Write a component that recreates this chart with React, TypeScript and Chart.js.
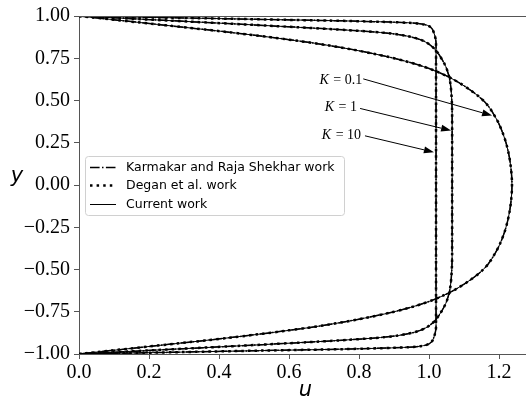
import React, { useEffect, useRef } from "react";
import { Chart, registerables } from "chart.js";

Chart.register(...registerables);

// ---- data ----
const yGrid = [
  1.0, 0.99, 0.98, 0.97, 0.96, 0.95, 0.94, 0.93, 0.92, 0.9, 0.88, 0.86, 0.84, 0.82, 0.8, 0.75, 0.7, 0.65, 0.6, 0.5, 0.4, 0.3, 0.2, 0.1, 0.0,
  -0.1, -0.2, -0.3, -0.4, -0.5, -0.6, -0.65, -0.7, -0.75, -0.8, -0.82, -0.84, -0.86, -0.88, -0.9, -0.92, -0.93, -0.94, -0.95, -0.96, -0.97, -0.98, -0.99, -1.0,
];

const uK01 = [
  0, 0.045, 0.09, 0.135, 0.18, 0.225, 0.27, 0.315, 0.36, 0.445, 0.525, 0.6, 0.67, 0.73, 0.785, 0.9, 0.985, 1.045, 1.09, 1.155, 1.19, 1.212, 1.226, 1.234, 1.237,
  1.234, 1.226, 1.212, 1.19, 1.155, 1.09, 1.045, 0.985, 0.9, 0.785, 0.73, 0.67, 0.6, 0.525, 0.445, 0.36, 0.315, 0.27, 0.225, 0.18, 0.135, 0.09, 0.045, 0,
];

const uK1 = [
  0, 0.095, 0.19, 0.285, 0.38, 0.475, 0.565, 0.655, 0.74, 0.875, 0.94, 0.975, 0.995, 1.008, 1.018, 1.035, 1.048, 1.056, 1.061, 1.065, 1.066, 1.066, 1.066, 1.066, 1.066,
  1.066, 1.066, 1.066, 1.066, 1.065, 1.061, 1.056, 1.048, 1.035, 1.018, 1.008, 0.995, 0.975, 0.94, 0.875, 0.74, 0.655, 0.565, 0.475, 0.38, 0.285, 0.19, 0.095, 0,
];

const uK10 = [
  0, 0.26, 0.52, 0.78, 0.94, 0.985, 1.0, 1.006, 1.01, 1.014, 1.017, 1.019, 1.02, 1.02, 1.02, 1.02, 1.02, 1.02, 1.02, 1.02, 1.02, 1.02, 1.02, 1.02, 1.02,
  1.02, 1.02, 1.02, 1.02, 1.02, 1.02, 1.02, 1.02, 1.02, 1.02, 1.02, 1.02, 1.019, 1.017, 1.014, 1.01, 1.006, 1.0, 0.985, 0.94, 0.78, 0.52, 0.26, 0,
];

const curves = [uK01, uK1, uK10];
const curveNames = ["0.1", "1", "10"];
const legendLabels = ["Karmakar and Raja Shekhar work", "Degan et al. work", "Current work"];
const xAxisLabel = "u";
const yAxisLabel = "y";

// annotation anchors in data coordinates (text right end, arrow start, arrow tip)
const annotTextU = [0.806, 0.791, 0.803];
const annotTextY = [0.618, 0.457, 0.293];
const arrowFromU = [0.812, 0.803, 0.817];
const arrowFromY = [0.628, 0.453, 0.291];
const arrowToU = [1.18, 1.063, 1.014];
const arrowToY = [0.411, 0.322, 0.194];

// ---- styles ----
const SPINE = "#555";
const TICK_FONT = '"Liberation Serif", "Times New Roman", serif';
const SANS = '"DejaVu Sans", sans-serif';
const DASHDOT = [9.6, 2.4, 1.5, 2.4];
const DOTTED = [2.5, 4.1];

function fmtMinus(v: number, d: number) {
  const s = Math.abs(v).toFixed(d);
  return v < -1e-9 ? "\u2212" + s : s;
}

const overlayPlugin = {
  id: "overlay",
  afterDraw(chart: any) {
    const { ctx, chartArea: ca } = chart;
    const xs = chart.scales.x;
    const ys = chart.scales.y;
    ctx.save();

    // top spine
    ctx.strokeStyle = SPINE;
    ctx.lineWidth = 1;
    ctx.setLineDash([]);
    ctx.beginPath();
    const ty = Math.round(ca.top) + 0.5;
    ctx.moveTo(ca.left, ty);
    ctx.lineTo(ca.right, ty);
    ctx.stroke();

    // annotations
    for (let i = 0; i < curveNames.length; i++) {
      const tx = xs.getPixelForValue(annotTextU[i]);
      const tyy = ys.getPixelForValue(annotTextY[i]);
      const rest = " = " + curveNames[i];
      ctx.fillStyle = "#000";
      ctx.textBaseline = "middle";
      ctx.textAlign = "left";
      ctx.font = `14px ${TICK_FONT}`;
      const restW = ctx.measureText(rest).width;
      ctx.font = `italic 14px ${TICK_FONT}`;
      const kW = ctx.measureText("K").width;
      const x0 = tx - restW - kW;
      ctx.fillText("K", x0, tyy);
      ctx.font = `14px ${TICK_FONT}`;
      ctx.fillText(rest, x0 + kW + 1, tyy);

      const ax = xs.getPixelForValue(arrowFromU[i]);
      const ay = ys.getPixelForValue(arrowFromY[i]);
      const bx = xs.getPixelForValue(arrowToU[i]);
      const by = ys.getPixelForValue(arrowToY[i]);
      const ang = Math.atan2(by - ay, bx - ax);
      const hl = 10;
      const hw = 3.5;
      const baseX = bx - hl * Math.cos(ang);
      const baseY = by - hl * Math.sin(ang);
      ctx.strokeStyle = "#000";
      ctx.lineWidth = 1;
      ctx.beginPath();
      ctx.moveTo(ax, ay);
      ctx.lineTo(baseX, baseY);
      ctx.stroke();
      ctx.beginPath();
      ctx.moveTo(bx, by);
      ctx.lineTo(baseX + hw * Math.sin(ang), baseY - hw * Math.cos(ang));
      ctx.lineTo(baseX - hw * Math.sin(ang), baseY + hw * Math.cos(ang));
      ctx.closePath();
      ctx.fillStyle = "#000";
      ctx.fill();
    }

    // legend
    const lx = ca.left + 6;
    const lt = ca.top + 140;
    const lw = 259;
    const lh = 59;
    ctx.setLineDash([]);
    ctx.fillStyle = "rgba(255,255,255,0.8)";
    ctx.strokeStyle = "#d0d0d0";
    ctx.lineWidth = 1;
    ctx.beginPath();
    (ctx as any).roundRect(lx + 0.5, lt + 0.5, lw, lh, 3);
    ctx.fill();
    ctx.stroke();
    const rowY = [lt + 10.5, lt + 29, lt + 47.5];
    const hx0 = lx + 5;
    const hx1 = lx + 31;
    for (let r = 0; r < 3; r++) {
      const yy = Math.round(rowY[r]) + 0.5;
      ctx.strokeStyle = "#000";
      ctx.lineCap = "butt";
      if (r === 0) {
        ctx.lineWidth = 1.5;
        ctx.setLineDash(DASHDOT);
      } else if (r === 1) {
        ctx.lineWidth = 2.5;
        ctx.setLineDash(DOTTED);
      } else {
        ctx.lineWidth = 1;
        ctx.setLineDash([]);
      }
      ctx.beginPath();
      ctx.moveTo(hx0, yy);
      ctx.lineTo(hx1, yy);
      ctx.stroke();
      ctx.setLineDash([]);
      ctx.fillStyle = "#000";
      ctx.font = `12.5px ${SANS}`;
      ctx.textAlign = "left";
      ctx.textBaseline = "middle";
      ctx.fillText(legendLabels[r], lx + 41, yy);
    }

    // axis titles
    ctx.fillStyle = "#000";
    ctx.font = `oblique 21px ${SANS}`;
    ctx.textAlign = "center";
    ctx.textBaseline = "alphabetic";
    ctx.fillText(xAxisLabel, (ca.left + ca.right) / 2 + 3, chart.height - 6);
    ctx.fillText(yAxisLabel, 17, ys.getPixelForValue(0) - 3);

    ctx.restore();
  },
};

export default function App() {
  const ref = useRef<HTMLCanvasElement | null>(null);

  useEffect(() => {
    if (!ref.current) return;
    const styles = [
      { borderWidth: 1, borderDash: [] as number[] },
      { borderWidth: 1.5, borderDash: DASHDOT },
      { borderWidth: 2.5, borderDash: DOTTED },
    ];
    const datasets: any[] = [];
    curves.forEach((u) => {
      styles.forEach((s) => {
        datasets.push({
          data: yGrid.map((y, i) => ({ x: u[i], y })),
          borderColor: "#000",
          backgroundColor: "#000",
          borderWidth: s.borderWidth,
          borderDash: s.borderDash,
          borderCapStyle: "butt",
          pointRadius: 0,
          fill: false,
          cubicInterpolationMode: "monotone",
        });
      });
    });

    const chart = new Chart(ref.current, {
      type: "line",
      data: { datasets },
      plugins: [overlayPlugin],
      options: {
        indexAxis: "y",
        responsive: false,
        animation: false,
        events: [],
        layout: { padding: { top: 15, right: 0, left: 0, bottom: 0 } },
        plugins: { legend: { display: false }, tooltip: { enabled: false } },
        scales: {
          x: {
            type: "linear",
            min: 0,
            max: 1.277,
            afterFit: (s: any) => {
              s.height = 48;
            },
            ticks: {
              stepSize: 0.2,
              includeBounds: false,
              maxRotation: 0,
              padding: 2,
              color: "#000",
              font: { family: TICK_FONT, size: 20 },
              callback: (v: any) => fmtMinus(Number(v), 1),
            },
            grid: { display: true, drawOnChartArea: false, drawTicks: true, tickLength: 5, color: SPINE, lineWidth: 1 },
            border: { display: true, color: SPINE, width: 1 },
          },
          y: {
            type: "linear",
            min: -1,
            max: 1,
            afterFit: (s: any) => {
              s.width = 79;
            },
            ticks: {
              stepSize: 0.25,
              includeBounds: false,
              padding: 4,
              color: "#000",
              font: { family: TICK_FONT, size: 20 },
              callback: (v: any) => fmtMinus(Number(v), 2),
            },
            grid: { display: true, drawOnChartArea: false, drawTicks: true, tickLength: 5, color: SPINE, lineWidth: 1 },
            border: { display: true, color: SPINE, width: 1 },
          },
        },
      } as any,
    });
    return () => chart.destroy();
  }, []);

  return (
    <div style={{ position: "fixed", left: 0, top: 0, width: 526, height: 402, background: "#fff" }}>
      <canvas ref={ref} width={526} height={402} style={{ display: "block" }} />
    </div>
  );
}
